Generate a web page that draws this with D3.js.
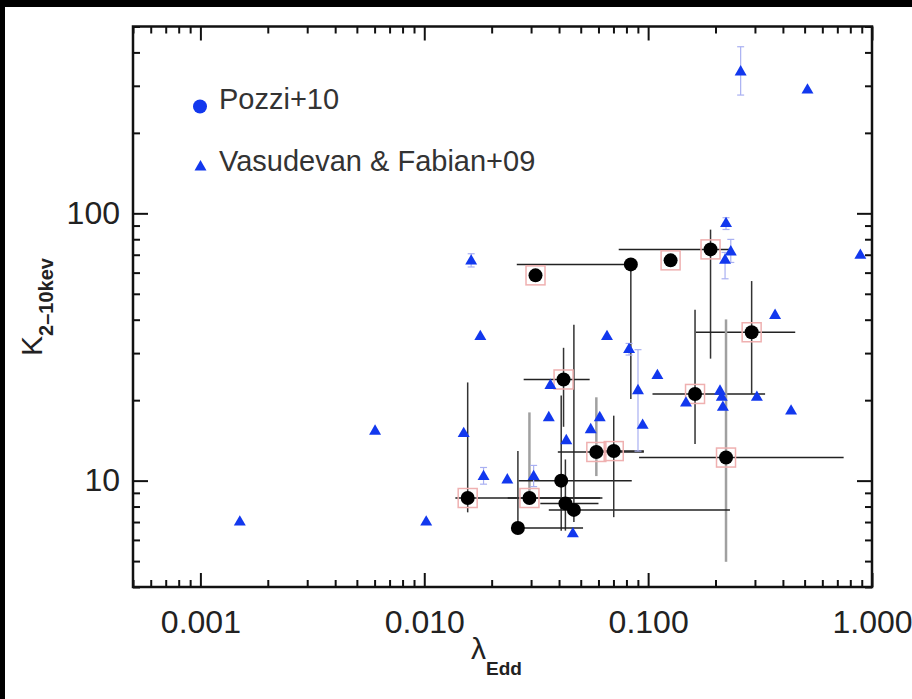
<!DOCTYPE html>
<html>
<head>
<meta charset="utf-8">
<script src="https://cdn.jsdelivr.net/npm/d3@7"></script>
<style>
  html, body { margin: 0; padding: 0; background: #000; }
  svg { display: block; }
</style>
</head>
<body>
<svg id="chart" width="912" height="699"></svg>
<script>
// ---- Vasudevan & Fabian (2009): Eddington ratio vs 2-10 keV bolometric correction
const vfLambda = [0.00150, 0.00603, 0.0102, 0.0150, 0.0162, 0.0178, 0.0184, 0.0235, 0.0308,
                  0.0360, 0.0366, 0.0431, 0.0461, 0.0554, 0.0608, 0.0655, 0.0822, 0.0901,
                  0.0945, 0.110, 0.1476, 0.2094, 0.2133, 0.2157, 0.2228, 0.234, 0.2206,
                  0.259, 0.306, 0.369, 0.435, 0.515, 0.887];
const vfK      = [7.0, 15.3, 7.0, 15.0, 66.3, 34.6, 10.35, 10.06, 10.35,
                  17.2, 22.7, 14.1, 6.32, 15.5, 17.2, 34.6, 30.9, 21.7,
                  16.1, 24.7, 19.5, 21.6, 20.5, 18.8, 91.5, 71.7, 66.7,
                  338, 20.5, 41.5, 18.2, 289, 69.6];
// K error range where one is quoted (null = none)
const vfKLo    = [null, null, null, null, 63.0, null, 9.7, null, 9.5,
                  null, null, null, null, null, null, null, 29.5, 12.9,
                  null, null, null, null, null, null, 87.0, 65.5, 56.9,
                  277, null, null, null, null, null];
const vfKHi    = [null, null, null, null, 70.6, null, 11.2, null, 11.4,
                  null, null, null, null, null, null, null, 32.6, 30.9,
                  null, null, null, null, null, null, 96.3, 79.9, 71.4,
                  420, null, null, null, null, null];

// ---- Pozzi et al. (2010)
const pzLambda = [0.0314, 0.0837, 0.126, 0.190, 0.0419, 0.162, 0.290, 0.2228,
                  0.01563, 0.0295, 0.0409, 0.0427, 0.0466, 0.0262, 0.0587, 0.0702];
const pzK      = [58.6, 64.4, 66.7, 73.3, 23.9, 21.1, 35.9, 12.2,
                  8.61, 8.61, 10.0, 8.22, 7.77, 6.65, 12.8, 12.9];
const pzLamLo  = [0.0314, 0.0259, 0.126, 0.0739, 0.0278, 0.1046, 0.1635, 0.0911,
                  0.01377, 0.0236, 0.0264, 0.0330, 0.0360, 0.0262, 0.0395, 0.0587];
const pzLamHi  = [0.0314, 0.0837, 0.126, 0.232, 0.0548, 0.333, 0.454, 0.747,
                  0.0625, 0.0610, 0.0845, 0.0600, 0.232, 0.0512, 0.0957, 0.0957];
const pzKLo    = [58.6, 20.2, 66.7, 28.6, 15.9, 13.7, 21.1, 4.97,
                  7.61, 8.2, 6.5, 6.5, 7.0, 6.65, 10.4, 7.3];
const pzKHi    = [58.6, 64.4, 66.7, 86.9, 31.4, 43.6, 55.8, 40.1,
                  23.3, 18.0, 20.8, 12.0, 38.3, 12.9, 20.5, 17.5];
// sources flagged with a box
const pzBoxed  = [true, false, true, true, true, true, true, true,
                  true, true, false, false, false, false, true, true];

const xMajor = [0.001, 0.01, 0.1, 1];
const xLabels = ["0.001", "0.010", "0.100", "1.000"];
const yMajor = [10, 100];
const yLabels = ["10", "100"];

const legendNames = ["Pozzi+10", "Vasudevan & Fabian+09"];

// ---- layout
const W = 912, H = 699;
const L = 133, R = 872, T = 26.5, B = 587;
const BLUE = "#1238ee";
const FONT = "'Liberation Sans', Arial, sans-serif";

const svg = d3.select("#chart");
svg.append("rect").attr("x", 5).attr("y", 7).attr("width", W - 5).attr("height", H - 7).attr("fill", "#fff");

const x = d3.scaleLog().domain([0.0005, 1]).range([L, R]);
const y = d3.scaleLog().domain([4, 500]).range([B, T]);

function minors(domain, majors) {
  const out = [];
  for (let e = -5; e <= 3; e++) {
    for (let m = 1; m <= 9; m++) {
      const v = +(m * Math.pow(10, e)).toPrecision(6);
      if (v >= domain[0] * 0.999 && v <= domain[1] * 1.001 && !majors.some(t => Math.abs(t - v) / v < 1e-6)) out.push(v);
    }
  }
  return out;
}
const xMinor = minors(x.domain(), xMajor);
const yMinor = minors(y.domain(), yMajor);

function styleAxis(g) {
  g.select(".domain").remove();
  g.selectAll("line").attr("stroke", "#111").attr("stroke-width", 2);
  g.selectAll("text").attr("font-family", FONT).attr("font-size", 32).attr("fill", "#222");
}

// bottom
svg.append("g").attr("transform", `translate(0,${B})`)
  .call(d3.axisBottom(x).tickValues(xMajor).tickFormat((d, i) => xLabels[i]).tickSize(-14).tickPadding(23))
  .call(styleAxis);
svg.append("g").attr("transform", `translate(0,${B})`)
  .call(d3.axisBottom(x).tickValues(xMinor).tickFormat("").tickSize(-7)).call(styleAxis);
// top
svg.append("g").attr("transform", `translate(0,${T})`)
  .call(d3.axisTop(x).tickValues(xMajor).tickFormat("").tickSize(-14)).call(styleAxis);
svg.append("g").attr("transform", `translate(0,${T})`)
  .call(d3.axisTop(x).tickValues(xMinor).tickFormat("").tickSize(-7)).call(styleAxis);
// left
svg.append("g").attr("transform", `translate(${L},0)`)
  .call(d3.axisLeft(y).tickValues(yMajor).tickFormat((d, i) => yLabels[i]).tickSize(-15).tickPadding(13))
  .call(styleAxis);
svg.append("g").attr("transform", `translate(${L},0)`)
  .call(d3.axisLeft(y).tickValues(yMinor).tickFormat("").tickSize(-7)).call(styleAxis);
// right
svg.append("g").attr("transform", `translate(${R},0)`)
  .call(d3.axisRight(y).tickValues(yMajor).tickFormat("").tickSize(-15)).call(styleAxis);
svg.append("g").attr("transform", `translate(${R},0)`)
  .call(d3.axisRight(y).tickValues(yMinor).tickFormat("").tickSize(-7)).call(styleAxis);

// frame
svg.append("rect").attr("x", L).attr("y", T).attr("width", R - L).attr("height", B - T)
  .attr("fill", "none").attr("stroke", "#111").attr("stroke-width", 2.5);

// axis titles
const xt = svg.append("text").attr("x", 471).attr("y", 659)
  .attr("font-family", FONT).attr("fill", "#222");
xt.append("tspan").attr("font-size", 30).text("λ");
xt.append("tspan").attr("font-size", 19).attr("font-weight", 600).attr("dy", 16).text("Edd");

const yt = svg.append("text").attr("transform", "translate(42,356) rotate(-90)")
  .attr("font-family", FONT).attr("fill", "#222");
yt.append("tspan").attr("font-size", 30).text("K");
yt.append("tspan").attr("font-size", 20).attr("font-weight", 600).attr("dy", 11).text("2\u201310kev");

// ---- Pozzi error bars
const pIdx = d3.range(pzLambda.length);
const softBars = new Set([7, 9, 14]);
const bars = svg.append("g");
pIdx.forEach(i => {
  if (pzLamLo[i] !== pzLamHi[i]) {
    bars.append("line")
      .attr("x1", x(pzLamLo[i])).attr("x2", x(pzLamHi[i]))
      .attr("y1", y(pzK[i])).attr("y2", y(pzK[i]))
      .attr("stroke", "#222").attr("stroke-width", 1.5);
  }
  if (pzKLo[i] !== pzKHi[i]) {
    bars.append("line")
      .attr("x1", x(pzLambda[i])).attr("x2", x(pzLambda[i]))
      .attr("y1", y(pzKLo[i])).attr("y2", y(pzKHi[i]))
      .attr("stroke", softBars.has(i) ? "#a0a0a0" : "#333")
      .attr("stroke-width", softBars.has(i) ? 2.5 : 1.5);
  }
});

// boxes around flagged sources
svg.append("g").selectAll("rect").data(pIdx.filter(i => pzBoxed[i])).join("rect")
  .attr("x", i => x(pzLambda[i]) - 9.5).attr("y", i => y(pzK[i]) - 9.5)
  .attr("width", 19).attr("height", 19)
  .attr("fill", "none").attr("stroke", "#efb0b0").attr("stroke-width", 1.5);

// ---- Vasudevan & Fabian error bars
const vIdx = d3.range(vfLambda.length);
const vErr = svg.append("g").attr("stroke", "#a9b0f2").attr("stroke-width", 1.2);
vIdx.filter(i => vfKLo[i] !== null).forEach(i => {
  const cx = x(vfLambda[i]);
  vErr.append("line").attr("x1", cx).attr("x2", cx).attr("y1", y(vfKLo[i])).attr("y2", y(vfKHi[i]));
  [vfKLo[i], vfKHi[i]].forEach(v => {
    vErr.append("line").attr("x1", cx - 3.5).attr("x2", cx + 3.5).attr("y1", y(v)).attr("y2", y(v));
  });
});

const tri = d3.symbol().type(d3.symbolTriangle).size(62);
svg.append("g").selectAll("path").data(vIdx).join("path")
  .attr("transform", i => `translate(${x(vfLambda[i])},${y(vfK[i])})`)
  .attr("d", tri).attr("fill", BLUE);

// Pozzi points
svg.append("g").selectAll("circle").data(pIdx).join("circle")
  .attr("cx", i => x(pzLambda[i])).attr("cy", i => y(pzK[i]))
  .attr("r", 7).attr("fill", "#000");

// ---- legend
const lg = svg.append("g");
lg.append("circle").attr("cx", 200).attr("cy", 106.5).attr("r", 7).attr("fill", BLUE);
lg.append("path").attr("transform", "translate(200.5,167)").attr("d", tri).attr("fill", BLUE);
lg.selectAll("text").data(legendNames).join("text")
  .attr("x", 219).attr("y", (d, i) => i === 0 ? 109 : 171)
  .attr("font-family", FONT).attr("font-size", 29).attr("fill", "#333")
  .text(d => d);
</script>
</body>
</html>
